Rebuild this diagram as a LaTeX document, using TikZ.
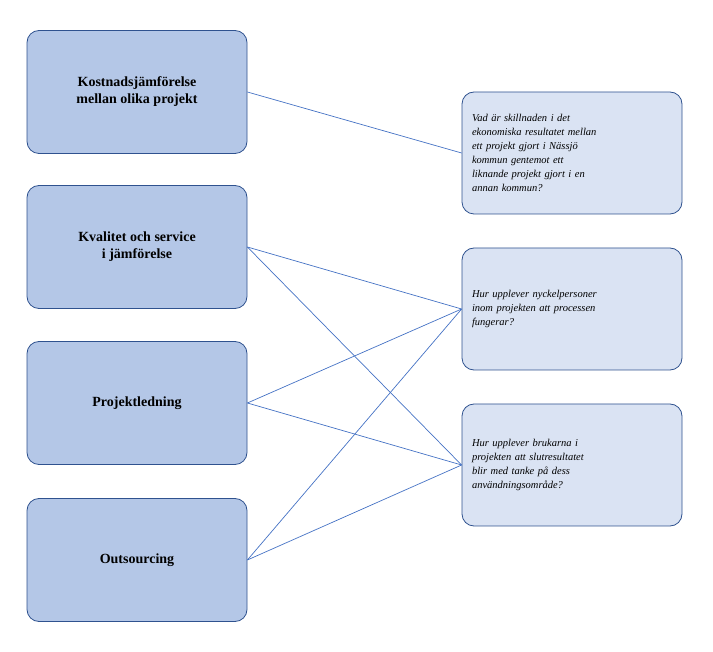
\documentclass[tikz,border=0pt]{standalone}
\usepackage{fontspec}
\setmainfont{Liberation Serif}
\definecolor{lfill}{HTML}{B4C7E7}
\definecolor{rfill}{HTML}{DAE3F3}
\definecolor{bord}{HTML}{2F528F}
\definecolor{ln}{HTML}{4472C4}
\begin{document}
\begin{tikzpicture}[x=1pt,y=-1pt,
 lbox/.style={draw=bord,fill=lfill,rounded corners=12pt,minimum width=220pt,minimum height=123pt,align=center,font=\fontsize{14}{17}\selectfont\bfseries,line width=0.8pt},
 rbox/.style={draw=bord,fill=rfill,rounded corners=12pt,minimum width=220pt,minimum height=122pt,align=left,text width=200pt,font=\fontsize{10.5}{14}\selectfont\itshape,line width=0.8pt},
 conn/.style={draw=ln,line width=0.7pt}]
\useasboundingbox (0,0) rectangle (713,652);
\node[lbox] (a) at (137,92) {Kostnadsjämförelse\\mellan olika projekt};
\node[lbox] (b) at (137,247) {Kvalitet och service\\i jämförelse};
\node[lbox] (c) at (137,403) {Projektledning};
\node[lbox] (d) at (137,560) {Outsourcing};
\node[rbox] (p) at (572,153) {Vad är skillnaden i det\\ekonomiska resultatet mellan\\ett projekt gjort i Nässjö\\kommun gentemot ett\\liknande projekt gjort i en\\annan kommun?};
\node[rbox] (q) at (572,309) {Hur upplever nyckelpersoner\\inom projekten att processen\\fungerar?};
\node[rbox] (r) at (572,465) {Hur upplever brukarna i\\projekten att slutresultatet\\blir med tanke på dess\\användningsområde?};
\draw[conn] (a.east) -- (p.west);
\draw[conn] (b.east) -- (q.west);
\draw[conn] (b.east) -- (r.west);
\draw[conn] (c.east) -- (q.west);
\draw[conn] (c.east) -- (r.west);
\draw[conn] (d.east) -- (q.west);
\draw[conn] (d.east) -- (r.west);
\end{tikzpicture}
\end{document}
